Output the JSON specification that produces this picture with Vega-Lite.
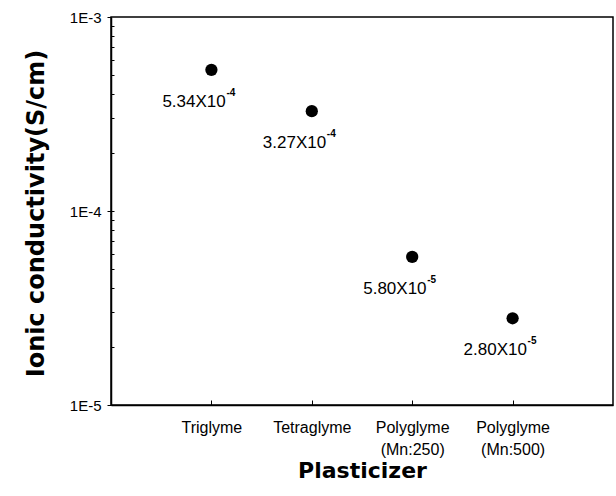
{
  "$schema": "https://vega.github.io/schema/vega-lite/v6.json",
  "width": 502,
  "height": 388,
  "autosize": "none",
  "padding": {"left": 111, "top": 17, "right": 3, "bottom": 91},
  "background": "white",
  "config": {
    "view": {"stroke": "black", "strokeWidth": 1.5},
    "axis": {"grid": false, "domainColor": "black", "tickColor": "black", "labelColor": "black", "titleColor": "black"}
  },
  "data": {
    "values": [
      {"plasticizer": "Triglyme", "conductivity": 0.000534, "main": "5.34X10", "exp": "-4"},
      {"plasticizer": "Tetraglyme", "conductivity": 0.000327, "main": "3.27X10", "exp": "-4"},
      {"plasticizer": "Polyglyme (Mn:250)", "conductivity": 0.000058, "main": "5.80X10", "exp": "-5"},
      {"plasticizer": "Polyglyme (Mn:500)", "conductivity": 0.000028, "main": "2.80X10", "exp": "-5"}
    ]
  },
  "resolve": {"axis": {"x": "independent", "y": "independent"}},
  "layer": [
    {
      "mark": {"type": "point", "filled": true, "shape": "circle", "size": 150, "color": "black", "opacity": 1},
      "encoding": {
        "x": {
          "field": "plasticizer", "type": "nominal", "sort": null,
          "scale": {"type": "point", "padding": 1},
          "axis": {
            "orient": "bottom",
            "title": "Plasticizer",
            "titleFont": "DejaVu Sans", "titleFontWeight": "bold", "titleFontSize": 22,
            "titleY": 65, "titleBaseline": "middle",
            "labelExpr": "split(datum.label, ' ')",
            "labelFont": "Liberation Sans", "labelFontSize": 16, "labelAngle": 0,
            "labelPadding": 14, "labelLineHeight": 22, "labelBaseline": "top",
            "ticks": false, "domain": true, "domainWidth": 1.5
          }
        },
        "y": {
          "field": "conductivity", "type": "quantitative",
          "scale": {"type": "log", "domain": [0.00001, 0.001], "nice": false},
          "axis": {
            "orient": "left",
            "values": [0.00001, 0.0001, 0.001],
            "labelExpr": "'1E' + round(log(datum.value) / LN10)",
            "labelFont": "Liberation Sans", "labelFontSize": 15,
            "tickSize": 4, "labelPadding": 6,
            "title": "Ionic conductivity(S/cm)",
            "titleFont": "DejaVu Sans", "titleFontWeight": "bold", "titleFontSize": 24,
            "titleX": -75, "titleY": 196, "titleAngle": -90,
            "titleBaseline": "middle", "titleAlign": "center",
            "domain": true, "domainWidth": 1.5
          }
        }
      }
    },
    {
      "mark": {"type": "text", "align": "left", "baseline": "middle", "dx": -49, "dy": 32, "font": "Liberation Sans", "fontSize": 17, "color": "black"},
      "encoding": {
        "text": {"field": "main"},
        "x": {
          "field": "plasticizer", "type": "nominal", "sort": null,
          "scale": {"type": "point", "padding": 1},
          "axis": {"orient": "top", "offset": -388, "labels": false, "domain": false, "title": null, "tickSize": 5, "ticks": true}
        },
        "y": {
          "field": "conductivity", "type": "quantitative",
          "scale": {"type": "log", "domain": [0.00001, 0.001], "nice": false},
          "axis": {
            "orient": "right", "offset": -502,
            "values": [0.00002, 0.00003, 0.00004, 0.00005, 0.00006, 0.00007, 0.00008, 0.00009, 0.0001, 0.0002, 0.0003, 0.0004, 0.0005, 0.0006, 0.0007, 0.0008, 0.0009],
            "labels": false, "domain": false, "title": null, "tickSize": 3, "ticks": true
          }
        }
      }
    },
    {
      "mark": {"type": "text", "align": "left", "baseline": "middle", "dx": 15, "dy": 23, "font": "Liberation Sans", "fontWeight": "bold", "fontSize": 10, "color": "black"},
      "encoding": {
        "text": {"field": "exp"},
        "x": {"field": "plasticizer", "type": "nominal", "sort": null, "scale": {"type": "point", "padding": 1}, "axis": null},
        "y": {"field": "conductivity", "type": "quantitative", "scale": {"type": "log", "domain": [0.00001, 0.001], "nice": false}, "axis": null}
      }
    }
  ]
}
